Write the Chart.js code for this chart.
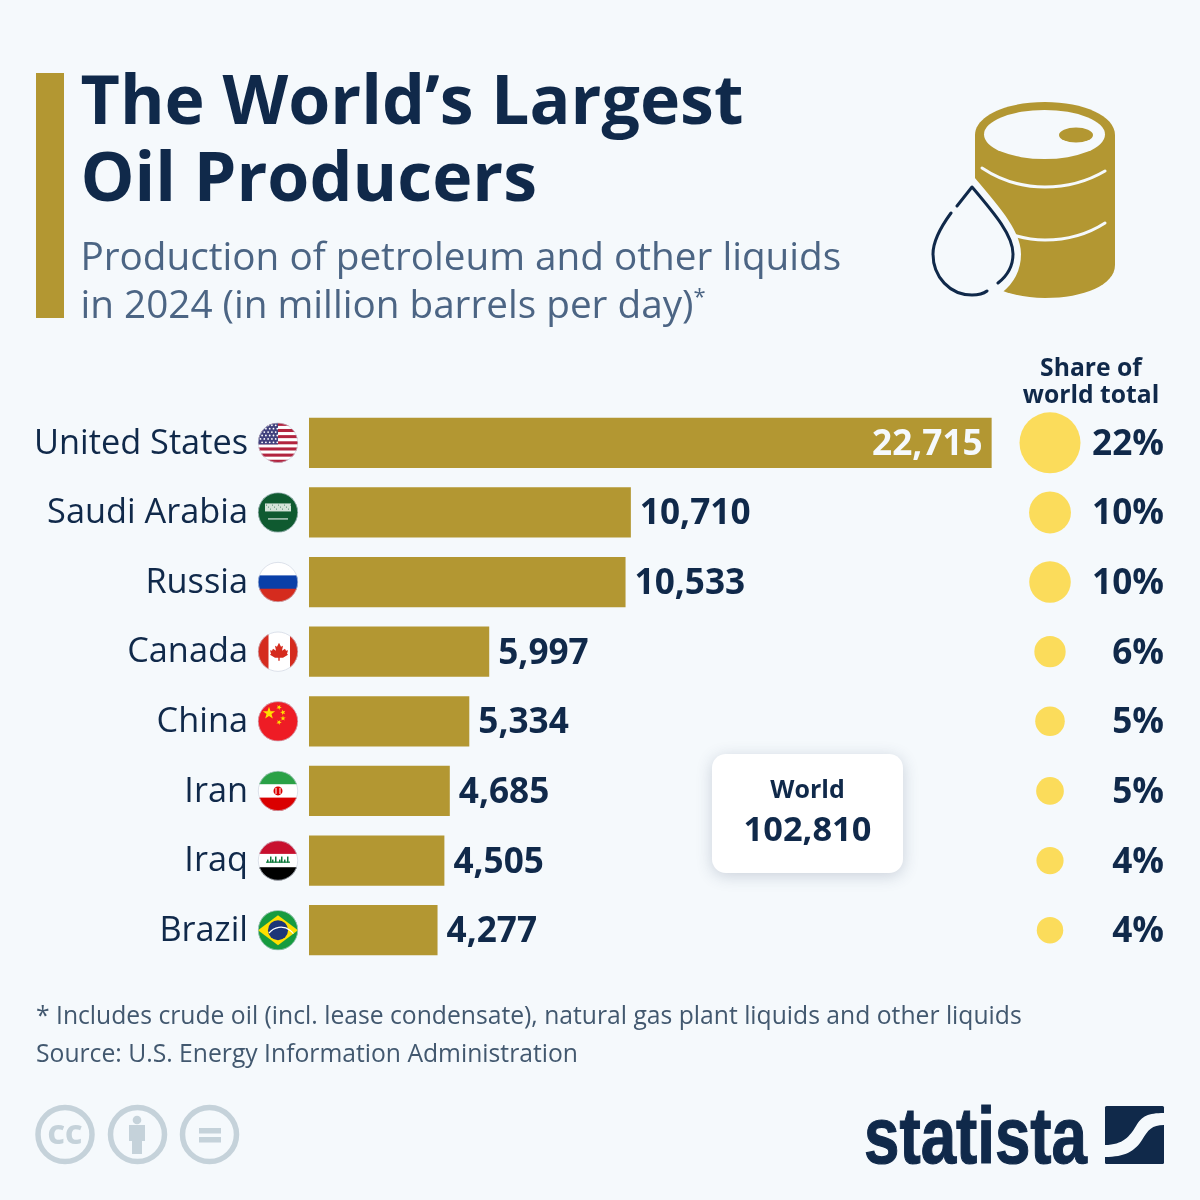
<!DOCTYPE html>
<html>
<head>
<meta charset="utf-8">
<script src="https://cdn.jsdelivr.net/npm/chart.js@4"></script>
<style>
  html, body { margin: 0; padding: 0; background: #f5f9fc; }
  body { position: relative; width: 1200px; height: 1200px; overflow: hidden; font-family: 'Open Sans', sans-serif; }
  #chart { position: absolute; left: 0; top: 0; }
  .abs { position: absolute; white-space: nowrap; }
  #bar { left: 36px; top: 73px; width: 28px; height: 245px; background: #b39732; }
  #title { left: 80.5px; top: 59px; font-size: 68px; line-height: 77px; font-weight: 700; color: #10294a; }
  #subtitle { left: 80.5px; top: 231px; font-size: 38.7px; line-height: 48px; color: #4c6584; }
  #subtitle sup { font-size: 22px; line-height: 0; }
  #shareHead { left: 991px; width: 200px; top: 353px; text-align: center; font-size: 24.7px; line-height: 27px; font-weight: 700; color: #10294a; }
  #world { left: 712px; top: 754px; width: 191px; height: 119px; background: #fff; border-radius: 14px; box-shadow: 0 3px 16px rgba(50,70,100,0.22); text-align: center; color: #10294a; }
  #world .a { margin-top: 17px; font-size: 25px; line-height: 34px; font-weight: 700; }
  #world .b { font-size: 34.4px; line-height: 45px; font-weight: 700; }
  #notes { left: 36px; top: 996px; font-size: 24.7px; line-height: 38px; color: #42586f; }
  svg { position: absolute; left: 0; top: 0; }
</style>
</head>
<body>
<canvas id="chart" width="1200" height="1200"></canvas>
<svg width="1200" height="1200" viewBox="0 0 1200 1200">
  <path d="M975 135 C975 116 1006 102 1045 102 C1084 102 1115 116 1115 135 L1115 265 C1115 285 1084 298 1045 298 C1028 298 1014 295 1003 291 L975 240 Z" fill="#b39732"/>
  <ellipse cx="1044.5" cy="134.5" rx="60.5" ry="24.5" fill="#f5f9fc"/>
  <ellipse cx="1076" cy="135" rx="17" ry="7.5" fill="#b39732"/>
  <path d="M982 168 C1000 180 1022 187 1045 187 C1068 187 1088 181 1105 171" fill="none" stroke="#f5f9fc" stroke-width="3" stroke-linecap="round"/>
  <path d="M1010 234 C1022 238 1034 240 1045 240 C1068 240 1088 234 1105 223" fill="none" stroke="#f5f9fc" stroke-width="3" stroke-linecap="round"/>
  <path d="M972 187 C950 213 933 235 933 254 C933 277 950 295 972 295 C994 295 1013 277 1013 254 C1013 235 994 213 972 187 Z" fill="#f5f9fc" stroke="#f5f9fc" stroke-width="16"/>
  <path d="M957 206 L972 187 C994 213 1013 235 1013 254 C1013 267 1007 276 998 283" fill="none" stroke="#10294a" stroke-width="3" stroke-linecap="round" stroke-linejoin="round"/>
  <path d="M951 213 C940 228 933 241 933 254 C933 277 950 295 972 295 C978 295 983 294 987 291" fill="none" stroke="#10294a" stroke-width="3" stroke-linecap="round"/>

  <g fill="none" stroke="#c5d2da" stroke-width="5.5">
    <circle cx="65" cy="1134.5" r="27"/>
    <circle cx="137.5" cy="1134.5" r="27"/>
    <circle cx="209.5" cy="1134.5" r="27"/>
  </g>
  <text x="65" y="1144" text-anchor="middle" font-family="Open Sans" font-weight="800" font-size="27" fill="#c5d2da">CC</text>
  <g fill="#c5d2da">
    <circle cx="137" cy="1120" r="4.3"/>
    <rect x="129" y="1125" width="16" height="16"/>
    <rect x="132" y="1125" width="10" height="29"/>
    <rect x="199" y="1128" width="22" height="5.5"/>
    <rect x="199" y="1137" width="22" height="5.5"/>
  </g>

  <text x="864" y="1163" font-family="Liberation Sans" font-weight="700" font-size="80" fill="#10294a" stroke="#10294a" stroke-width="1.2" textLength="223" lengthAdjust="spacingAndGlyphs">statista</text>
  <rect x="1105" y="1106" width="59" height="58" rx="1.5" fill="#10294a"/>
  <path d="M1105 1145 C1123 1145 1130 1136 1136 1126 C1142 1116 1148 1113 1164 1113 L1164 1125 C1152 1125 1148 1130 1142 1140 C1135 1151 1125 1157 1105 1157 Z" fill="#f5f9fc"/>
</svg>
<div id="bar" class="abs"></div>
<div id="title" class="abs">The World’s Largest<br>Oil Producers</div>
<div id="subtitle" class="abs">Production of petroleum and other liquids<br>in 2024 (in million barrels per day)<sup>*</sup></div>
<div id="shareHead" class="abs">Share of<br>world total</div>
<div id="world" class="abs"><div class="a">World</div><div class="b">102,810</div></div>
<div id="notes" class="abs">* Includes crude oil (incl. lease condensate), natural gas plant liquids and other liquids<br>Source: U.S. Energy Information Administration</div>

<script>
var countries = ['United States', 'Saudi Arabia', 'Russia', 'Canada', 'China', 'Iran', 'Iraq', 'Brazil'];
var production = [22715, 10710, 10533, 5997, 5334, 4685, 4505, 4277];
var shareLabels = ['22%', '10%', '10%', '6%', '5%', '5%', '4%', '4%'];
var worldTotal = 102810;

var GOLD = '#b39732';
var YELLOW = '#fbdc5b';
var NAVY = '#10294a';
var FONT = "'Open Sans', sans-serif";

function stripes(ctx, x, y, r, colours) {
  var h = 2 * r / colours.length;
  colours.forEach(function (c, i) {
    ctx.fillStyle = c;
    ctx.fillRect(x - r, y - r + i * h, 2 * r, h + 0.5);
  });
}

function star(ctx, x, y, r, rot) {
  ctx.beginPath();
  for (var i = 0; i < 10; i++) {
    var a = rot + i * Math.PI / 5 - Math.PI / 2;
    var d = i % 2 ? r * 0.4 : r;
    ctx.lineTo(x + Math.cos(a) * d, y + Math.sin(a) * d);
  }
  ctx.closePath();
  ctx.fill();
}

var flags = {
  'United States': function (ctx, x, y, r) {
    var cols = [];
    for (var i = 0; i < 13; i++) cols.push(i % 2 ? '#ffffff' : '#b2243f');
    stripes(ctx, x, y, r, cols);
    ctx.fillStyle = '#41417d';
    ctx.fillRect(x - r, y - r, r, r * 1.08);
    ctx.fillStyle = '#ffffff';
    for (var row = 0; row < 6; row++) {
      for (var col = 0; col < 5; col++) {
        ctx.beginPath();
        ctx.arc(x - r + 2.5 + col * 3.8 + (row % 2 ? 1.6 : 0), y - r + 2.5 + row * 3.4, 0.9, 0, 7);
        ctx.fill();
      }
    }
  },
  'Saudi Arabia': function (ctx, x, y, r) {
    ctx.fillStyle = '#0f5a30';
    ctx.fillRect(x - r, y - r, 2 * r, 2 * r);
    ctx.fillStyle = '#d5e3d9';
    ctx.fillRect(x - 13, y - 9, 26, 8);
    ctx.fillStyle = '#7fa892';
    for (var i = 0; i < 13; i++) ctx.fillRect(x - 12 + i * 2, y - 8 + (i % 3) * 2, 1, 1.5);
    ctx.fillStyle = '#ffffff';
    ctx.fillRect(x - 10, y + 6, 20, 1);
  },
  'Russia': function (ctx, x, y, r) {
    stripes(ctx, x, y, r, ['#ffffff', '#0a3fa8', '#d52b1e']);
  },
  'Canada': function (ctx, x, y, r) {
    stripes(ctx, x, y, r, ['#ffffff']);
    ctx.fillStyle = '#d52b1e';
    ctx.fillRect(x - r, y - r, 10.5, 2 * r);
    ctx.fillRect(x + r - 8, y - r, 8, 2 * r);
    ctx.beginPath();
    [[0, -9], [2, -5], [4, -6], [3, -1], [6, -3], [7, -1], [9, -1.5], [8, 2], [9, 3], [4, 6], [0.7, 6], [0.7, 9],
      [-0.7, 9], [-0.7, 6], [-4, 6], [-9, 3], [-8, 2], [-9, -1.5], [-7, -1], [-6, -3], [-3, -1], [-4, -6], [-2, -5]]
      .forEach(function (p) { ctx.lineTo(x + 1 + p[0], y + p[1]); });
    ctx.closePath();
    ctx.fill();
  },
  'China': function (ctx, x, y, r) {
    ctx.fillStyle = '#ee1c25';
    ctx.fillRect(x - r, y - r, 2 * r, 2 * r);
    ctx.fillStyle = '#ffdf00';
    star(ctx, x - 9, y - 8, 6.5, 0);
    star(ctx, x + 1, y - 14, 2.8, 0.5);
    star(ctx, x + 5, y - 9, 2.8, 1);
    star(ctx, x + 5, y - 3, 2.8, 0);
    star(ctx, x + 1, y + 1, 2.8, 0.5);
  },
  'Iran': function (ctx, x, y, r) {
    stripes(ctx, x, y, r, ['#2aa146', '#ffffff', '#da0000']);
    ctx.fillStyle = '#da0000';
    ctx.beginPath();
    ctx.arc(x, y, 4.5, 0, 7);
    ctx.fill();
    ctx.fillStyle = '#ffffff';
    ctx.fillRect(x - 2.5, y - 3, 1, 6);
    ctx.fillRect(x + 1.5, y - 3, 1, 6);
  },
  'Iraq': function (ctx, x, y, r) {
    stripes(ctx, x, y, r, ['#c8102e', '#ffffff', '#000000']);
    ctx.fillStyle = '#0f7a3c';
    [-11, -8, -6, -3, 1, 3, 6, 9].forEach(function (dx, i) {
      ctx.fillRect(x + dx, y - (i % 2 ? 4 : 1), 1.5, i % 2 ? 6 : 3);
    });
    ctx.fillRect(x - 12, y + 1, 24, 1.2);
  },
  'Brazil': function (ctx, x, y, r) {
    ctx.fillStyle = '#169b3f';
    ctx.fillRect(x - r, y - r, 2 * r, 2 * r);
    ctx.fillStyle = '#fedf00';
    ctx.beginPath();
    ctx.moveTo(x - r, y);
    ctx.lineTo(x, y - 15);
    ctx.lineTo(x + r, y);
    ctx.lineTo(x, y + 15);
    ctx.closePath();
    ctx.fill();
    ctx.fillStyle = '#1c3578';
    ctx.beginPath();
    ctx.arc(x, y, 10, 0, 7);
    ctx.fill();
    ctx.strokeStyle = '#ffffff';
    ctx.lineWidth = 1.2;
    ctx.beginPath();
    ctx.arc(x + 3, y + 12, 15, -2.5, -0.6);
    ctx.stroke();
  },
};

var labelsPlugin = {
  id: 'rowLabels',
  afterDatasetsDraw: function (chart) {
    var ctx = chart.ctx;
    var bars = chart.getDatasetMeta(0).data;
    ctx.save();
    ctx.textBaseline = 'middle';
    bars.forEach(function (bar, i) {
      // country name and flag badge, left of the bar
      var cx = 278, cy = bar.y, r = 20;
      ctx.font = '400 34.3px ' + FONT;
      ctx.fillStyle = NAVY;
      ctx.textAlign = 'right';
      ctx.fillText(chart.scales.y.getLabelForValue(i), 248, cy + 1);

      ctx.save();
      ctx.beginPath();
      ctx.arc(cx, cy, r, 0, Math.PI * 2);
      ctx.clip();
      flags[countries[i]](ctx, cx, cy, r);
      ctx.restore();
      ctx.beginPath();
      ctx.arc(cx, cy, r - 0.3, 0, Math.PI * 2);
      ctx.strokeStyle = 'rgba(200,208,222,0.8)';
      ctx.lineWidth = 0.8;
      ctx.stroke();

      // value: inside the longest bar, after the others
      var text = production[i].toLocaleString('en-US');
      ctx.font = '700 35.2px ' + FONT;
      if (i === 0) {
        ctx.fillStyle = '#f5f9fc';
        ctx.textAlign = 'right';
        ctx.fillText(text, bar.x - 9, cy + 2);
      } else {
        ctx.fillStyle = NAVY;
        ctx.textAlign = 'left';
        ctx.fillText(text, bar.x + 9, cy + 2);
      }

      ctx.fillStyle = NAVY;
      ctx.textAlign = 'right';
      ctx.fillText(shareLabels[i], 1164, cy + 2);
    });
    ctx.restore();
  },
};

new Chart(document.getElementById('chart'), {
  data: {
    labels: countries,
    datasets: [
      {
        type: 'bar',
        indexAxis: 'y',
        data: production,
        xAxisID: 'x',
        yAxisID: 'y',
        backgroundColor: GOLD,
        grouped: false,
        categoryPercentage: 1,
        barPercentage: 0.72,
      },
      {
        type: 'scatter',
        data: countries.map(function (c) { return { x: 0, y: c }; }),
        xAxisID: 'shareX',
        yAxisID: 'y',
        backgroundColor: YELLOW,
        borderWidth: 0,
        pointRadius: function (c) {
          return 6.49 * Math.sqrt(production[c.dataIndex] / worldTotal * 100);
        },
      },
    ],
  },
  options: {
    responsive: false,
    animation: false,
    layout: { padding: { top: 408, bottom: 235, right: 36, left: 0 } },
    plugins: { legend: { display: false }, tooltip: { enabled: false } },
    scales: {
      x: { type: 'linear', display: false, min: 0, max: 28450 },
      shareX: { type: 'linear', display: false, min: -6.5, max: 1 },
      y: {
        type: 'category',
        position: 'left',
        offset: true,
        border: { display: false },
        grid: { display: false, drawTicks: false },
        ticks: { display: false, autoSkip: false },
        afterFit: function (scale) { scale.width = 309; },
      },
    },
  },
  plugins: [labelsPlugin],
});
</script>
</body>
</html>
